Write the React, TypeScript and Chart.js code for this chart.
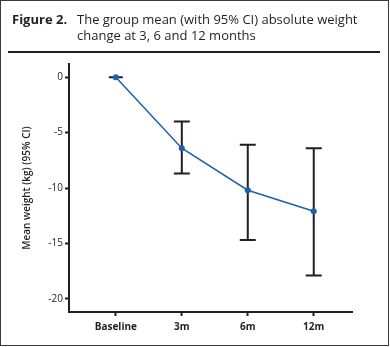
import React, { useEffect, useRef } from "react";
import { Chart, registerables } from "chart.js";

Chart.register(...registerables);

const categories = ["Baseline", "3m", "6m", "12m"];
const meanChange = [0, -6.4, -10.2, -12.1];
const ciUpper = [0, -4.0, -6.1, -6.4];
const ciLower = [0, -8.7, -14.7, -17.9];
const yTicks = [0, -5, -10, -15, -20];

const INK = "#231f20";
const BLUE = "#1f5fae";

const errorBarPlugin = {
  id: "errorBars",
  beforeDatasetsDraw(chart: any) {
    const { ctx, scales } = chart;
    const xs = scales.x;
    const ys = scales.y;
    ctx.save();
    ctx.strokeStyle = INK;
    ctx.lineWidth = 2;
    categories.forEach((_, i) => {
      const x = xs.getPixelForValue(i);
      const yHi = ys.getPixelForValue(ciUpper[i]);
      const yLo = ys.getPixelForValue(ciLower[i]);
      const half = i === 0 ? 7 : 8;
      ctx.beginPath();
      ctx.moveTo(x, yHi);
      ctx.lineTo(x, yLo);
      ctx.moveTo(x - half, yHi);
      ctx.lineTo(x + half, yHi);
      ctx.moveTo(x - half, yLo);
      ctx.lineTo(x + half, yLo);
      ctx.stroke();
    });
    ctx.restore();
  },
};

export default function App() {
  const canvasRef = useRef<HTMLCanvasElement | null>(null);

  useEffect(() => {
    document.body.style.margin = "0";
    const canvas = canvasRef.current;
    if (!canvas) return;
    const chart = new Chart(canvas, {
      type: "line",
      data: {
        datasets: [
          {
            data: meanChange.map((v, i) => ({ x: i, y: v })),
            borderColor: BLUE,
            backgroundColor: BLUE,
            borderWidth: 1.5,
            pointRadius: 3,
            pointBorderWidth: 0,
            pointBackgroundColor: BLUE,
            tension: 0,
          },
        ],
      },
      options: {
        animation: false,
        responsive: false,
        events: [],
        layout: { padding: { top: 64, left: 17, right: 38, bottom: 4 } },
        plugins: {
          legend: { display: false },
          tooltip: { enabled: false },
          title: { display: false },
        },
        scales: {
          x: {
            type: "linear",
            min: -0.71,
            max: 3.58,
            afterBuildTicks: (scale: any) => {
              scale.ticks = categories.map((_, i) => ({ value: i }));
            },
            afterFit: (scale: any) => {
              scale.height = 31;
            },
            ticks: {
              autoSkip: false,
              maxRotation: 0,
              padding: 5,
              color: INK,
              font: { family: "Open Sans", size: 10, weight: "bold" },
              callback: (v: any) => categories[Math.round(Number(v))] ?? "",
            },
            grid: {
              drawOnChartArea: false,
              drawTicks: true,
              tickLength: 4,
              tickWidth: 2,
              tickColor: INK,
            },
            border: { display: true, color: INK, width: 2 },
          },
          y: {
            type: "linear",
            min: -21.2,
            max: 1.2,
            afterBuildTicks: (scale: any) => {
              scale.ticks = yTicks.map((v) => ({ value: v }));
            },
            afterFit: (scale: any) => {
              scale.width = 52;
            },
            ticks: {
              padding: 2,
              color: INK,
              font: { family: "Open Sans", size: 10 },
              callback: (v: any) => String(v),
            },
            grid: {
              drawOnChartArea: false,
              drawTicks: true,
              tickLength: 4,
              tickWidth: 2,
              tickColor: INK,
            },
            border: { display: true, color: INK, width: 2 },
            title: {
              display: true,
              text: "Mean weight (kg) (95% CI)",
              color: INK,
              font: { family: "Open Sans", size: 10, weight: 600 },
              padding: { top: 4, bottom: 0 },
            },
          },
        },
      },
      plugins: [errorBarPlugin],
    });
    return () => chart.destroy();
  }, []);

  return (
    <div
      style={{
        position: "relative",
        width: 389,
        height: 346,
        boxSizing: "border-box",
        border: "1px solid #3a3a3a",
        background: "#fff",
        fontFamily: "'Open Sans', sans-serif",
        color: INK,
        overflow: "hidden",
      }}
    >
      <canvas
        ref={canvasRef}
        width={390}
        height={347}
        style={{ position: "absolute", left: -1, top: -1 }}
      />
      <div
        style={{
          position: "absolute",
          left: 11,
          top: 10,
          fontSize: 13,
          fontWeight: 700,
          lineHeight: "16px",
        }}
      >
        Figure 2.
      </div>
      <div
        style={{
          position: "absolute",
          left: 76,
          top: 10,
          width: 305,
          fontSize: 13,
          lineHeight: "16px",
        }}
      >
        The group mean (with 95% CI) absolute weight
        <br />
        change at 3, 6 and 12 months
      </div>
      <div
        style={{
          position: "absolute",
          left: 7,
          top: 50,
          width: 372,
          height: 2,
          background: INK,
        }}
      />
    </div>
  );
}
